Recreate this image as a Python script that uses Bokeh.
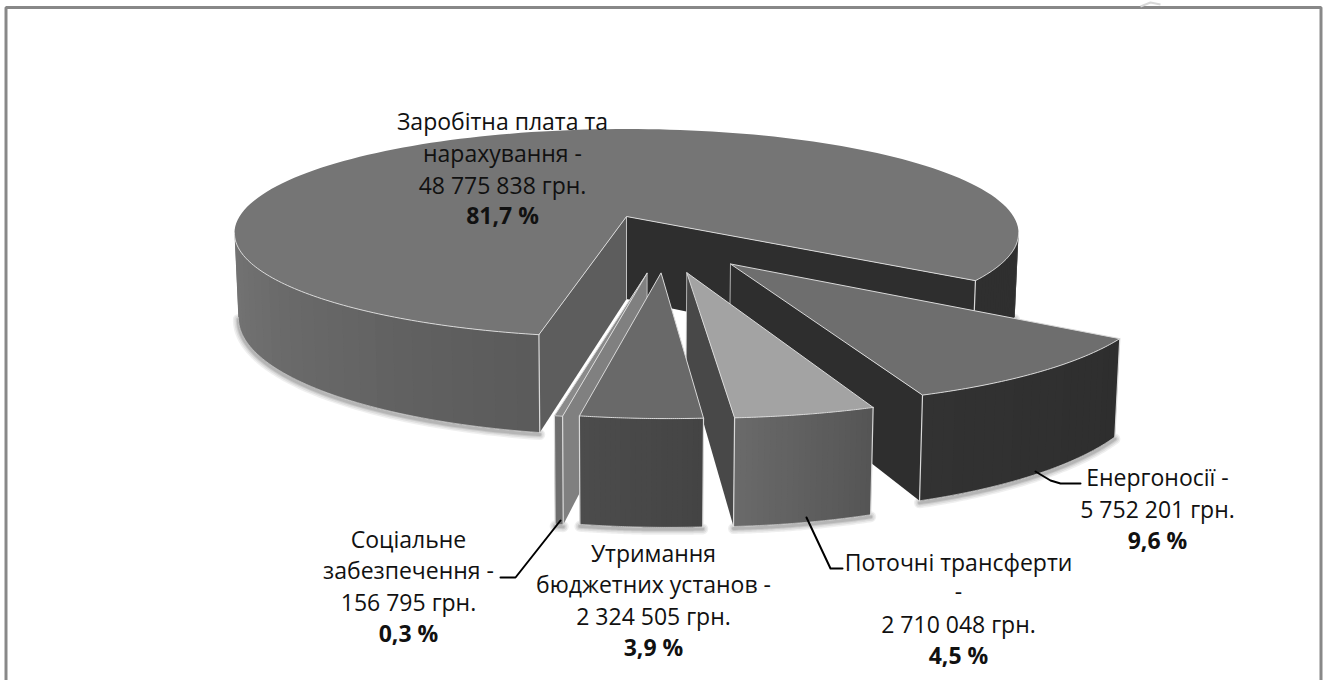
import math
from bokeh.plotting import figure
from bokeh.models import Range1d
from bokeh.core.properties import value
from bokeh.embed import file_html
from bokeh.resources import INLINE

# ---- data ----
categories = ["Заробітна плата та нарахування", "Енергоносії", "Поточні трансферти",
              "Утримання бюджетних установ", "Соціальне забезпечення"]
amounts = [48775838, 5752201, 2710048, 2324505, 156795]
amount_labels = ["48 775 838 грн.", "5 752 201 грн.", "2 710 048 грн.", "2 324 505 грн.", "156 795 грн."]
percent_labels = ["81,7 %", "9,6 %", "4,5 %", "3,9 %", "0,3 %"]

# ---- layout and style ----
W, H = 1328, 680
CX, CY, RX, RY, K, DEPTH, BOTTOM_X = 626.0, 216.0, 387.0, 101.5, 0.16, 82.5, 0.99
START = 101.0
EXPLODE = [(0, 0), (0.25, 0.435), (0.143, 0.508), (0.082, 0.51), (0.049, 0.512)]
TOP = ["#757575", "#6e6e6e", "#a3a3a3", "#696969", "#8a8a8a"]
EDGE = "#d9d9d9"
FONT = "Open Sans"
FS = "23px"

p = figure(width=W, height=H, x_range=Range1d(0, W), y_range=Range1d(H, 0),
           output_backend="svg", toolbar_location=None, min_border=0,
           outline_line_color=None, background_fill_color="white", border_fill_color="white")
p.axis.visible = False
p.grid.visible = False
p.xaxis.visible = False
p.yaxis.visible = False


def pt(theta, off, bottom=False, inner=False):
    t = math.radians(theta)
    u = off[0] + (0 if inner else math.cos(t))
    v = off[1] + (0 if inner else math.sin(t))
    s = 1.0 / (1.0 - K * v)
    x = RX * u * s
    y = RY * v * s
    if bottom:
        return CX + x * BOTTOM_X, CY + y + DEPTH * s
    return CX + x, CY + y


def arc(a, b, off, bottom=False, n=60):
    return [pt(a + (b - a) * i / n, off, bottom) for i in range(n + 1)]


def mix(c1, c2, f):
    a = [int(c1[i:i + 2], 16) for i in (1, 3, 5)]
    b = [int(c2[i:i + 2], 16) for i in (1, 3, 5)]
    return "#%02x%02x%02x" % tuple(round(a[i] + (b[i] - a[i]) * f) for i in range(3))


def poly(pts, color):
    p.patch([q[0] for q in pts], [q[1] for q in pts], fill_color=color, line_color=None)


def line(pts, color=EDGE, width=1.0, alpha=1.0):
    p.line([q[0] for q in pts], [q[1] for q in pts], line_color=color, line_width=width, line_alpha=alpha,
           line_join="round", line_cap="round")


def shadow(a, b, off):
    pts = [(x, y + 2) for x, y in arc(a, b, off, True)]
    for w, al in ((11, 0.10), (8, 0.12), (5, 0.16), (3, 0.2)):
        line(pts, "#666666", w, al)


def wall(theta, off, color):
    poly([pt(0, off, inner=True), pt(theta, off), pt(theta, off, True), pt(0, off, True, inner=True)], color)
    line([pt(0, off, True, inner=True), pt(0, off, inner=True)], "#cfcfcf", 0.8)


def outer(a, b, off, stops, n=24, edge_a=True, edge_b=True):
    # painted strip over strip: every strip runs on under the next one, so no seams show
    for i in range(n):
        t0 = a + (b - a) * i / n
        t1 = a + (b - a) * min(i + 2, n) / n
        c = mix(stops[0], stops[1], (i + 0.5) / n)
        poly(arc(t0, t1, off, n=4) + arc(t1, t0, off, True, n=4), c)
    line(arc(a, b, off, True), "#c8c8c8", 0.8)
    if edge_a:
        line([pt(a, off), pt(a, off, True)], EDGE, 1.2)
    if edge_b:
        line([pt(b, off), pt(b, off, True)], EDGE, 1.2)


def top(a, b, off, color):
    pts = [pt(0, off, inner=True)] + arc(a, b, off, n=160 if b - a > 90 else 40)
    poly(pts, color)


# cumulative slice angles from the values
total = sum(amounts)
edges = [START]
for v_ in amounts:
    edges.append(edges[-1] + 360.0 * v_ / total)

# --- main slice ---
a0, a1 = edges[0], edges[1]
o = EXPLODE[0]
LEFT_END = 171.0          # where the rim turns away from the viewer
RIGHT_END = 360.0 + 9.0
shadow(a0, LEFT_END, o)
shadow(RIGHT_END, RIGHT_END + 8, o)
wall(a1, o, "#2e2e2e")
wall(a0, o, "#5d5d5d")
outer(RIGHT_END, a1, o, ("#2f2f2f", "#2f2f2f"), edge_a=False)
outer(LEFT_END, a0, o, ("#757575", "#5a5a5a"), edge_a=False)
top(a0, a1, o, TOP[0])
line(arc(a0, LEFT_END, o, n=80))
line([pt(a0, o), pt(0, o, inner=True), pt(a1, o)])
line(arc(RIGHT_END, a1, o))

# --- energy ---
a0, a1 = edges[1], edges[2]
o = EXPLODE[1]
shadow(a0, a1, o)
wall(a1, o, "#2e2e2e")
outer(a0, a1, o, ("#2e2e2e", "#323232"))
top(a0, a1, o, TOP[1])
line([pt(a0, o), pt(0, o, inner=True), pt(a1, o)] + arc(a1, a0, o))

# --- transfers ---
a0, a1 = edges[2], edges[3]
o = EXPLODE[2]
shadow(a0, a1, o)
wall(a1, o, "#484848")
outer(a0, a1, o, ("#555555", "#6a6a6a"))
top(a0, a1, o, TOP[2])
line([pt(a0, o), pt(0, o, inner=True), pt(a1, o)] + arc(a1, a0, o))

# --- social (the thin one, behind the next) ---
a0, a1 = edges[4], edges[5]
o = EXPLODE[4]
shadow(a0, a1, o)
wall(a0, o, "#808080")
outer(a0, a1, o, ("#6e6e6e", "#6e6e6e"), n=3)
top(a0, a1, o, TOP[4])
line([pt(a0, o), pt(0, o, inner=True), pt(a1, o)] + arc(a1, a0, o))

# --- budget institutions ---
a0, a1 = edges[3], edges[4]
o = EXPLODE[3]
shadow(a0, a1, o)
outer(a0, a1, o, ("#444444", "#4c4c4c"))
top(a0, a1, o, TOP[3])
line([pt(a0, o), pt(0, o, inner=True), pt(a1, o)] + arc(a1, a0, o))

# --- page frame (open at the bottom) ---
FRAME = "#888888"
p.line([5.5, 5.5, 1320.5, 1320.5], [680, 7, 7, 680], line_color=FRAME, line_width=3)
p.line([1140, 1150, 1160], [6, 2, 4], line_color="#d8d8d8", line_width=2)

# --- leaders ---
LEADERS = [
    [(1035, 471), (1050, 480), (1060, 483), (1080, 483)],
    [(806, 517), (830, 568), (842, 568)],
    [(560, 520), (515, 577), (500, 577)],
]
for l in LEADERS:
    line(l, "#000000", 2)

# --- labels ---
LABELS = [
    (502, [("Заробітна плата та", 120), ("нарахування -", 152), (amount_labels[0], 184)], (percent_labels[0], 214)),
    (1157, [("Енергоносії -", 476), (amount_labels[1], 508)], (percent_labels[1], 539)),
    (958, [("Поточні трансферти", 561), ("-", 591), (amount_labels[2], 623)], (percent_labels[2], 654)),
    (653, [("Утримання", 552), ("бюджетних установ -", 583), (amount_labels[3], 615)], (percent_labels[3], 646)),
    (408, [("Соціальне", 538), ("забезпечення -", 569), (amount_labels[4], 601)], (percent_labels[4], 632)),
]
for x, rows, pct in LABELS:
    p.text([x] * len(rows), [r[1] for r in rows], text=[r[0] for r in rows], text_font=value(FONT),
           text_font_size=FS, text_color="#111111", text_align="center", text_baseline="middle")
    p.text([x], [pct[1]], text=[pct[0]], text_font=value(FONT), text_font_size=FS, text_font_style="bold",
           text_color="#111111", text_align="center", text_baseline="middle")

open("out.html", "w").write(file_html(p, INLINE))
